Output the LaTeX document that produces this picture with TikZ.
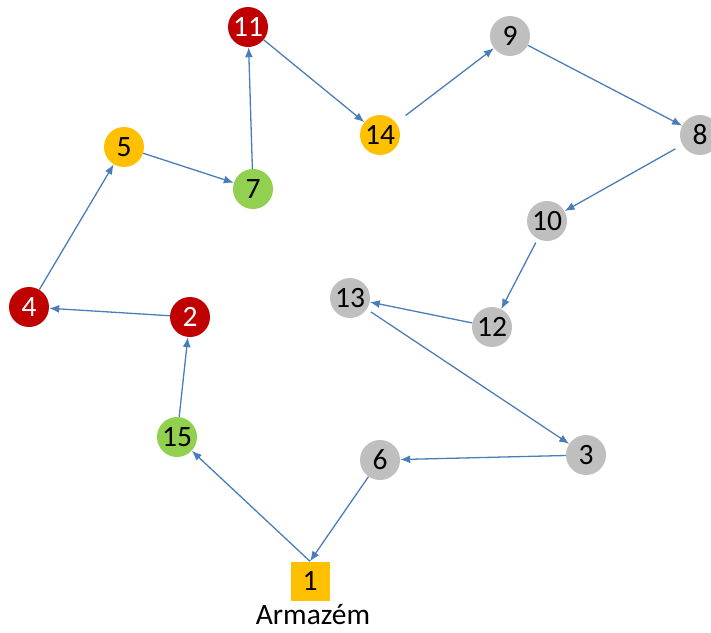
\documentclass[tikz,border=0pt]{standalone}
\usepackage{fontspec}
\setmainfont{Carlito}
\usetikzlibrary{arrows,arrows.meta,positioning,calc}

\definecolor{clred}{HTML}{C00000}
\definecolor{clorange}{HTML}{FFC000}
\definecolor{clgreen}{HTML}{92D050}
\definecolor{clgray}{HTML}{BFBFBF}
\definecolor{clblue}{HTML}{4A7EBB}

\tikzset{
    client/.style={circle,minimum size=40pt,inner sep=0pt,font=\fontsize{29.5}{32}\selectfont},
    redclient/.style={client,fill=clred,text=white},
    orangeclient/.style={client,fill=clorange},
    greenclient/.style={client,fill=clgreen},
    grayclient/.style={client,fill=clgray},
    depot/.style={rectangle,minimum size=39pt,inner sep=0pt,fill=clorange,font=\fontsize{29.5}{32}\selectfont},
    route/.style={-{Latex[length=10pt,width=8pt]},line width=1.3pt,draw=clblue}
}

\begin{document}
\begin{tikzpicture}[x=1pt,y=-1pt]
        \useasboundingbox (0,0) rectangle (711,632);

        % Depot
        \node[depot] (n1) at (310, 581) {1};
        \node[font=\fontsize{29.5}{32}\selectfont] (depotlabel) at (313, 615) {Armazém};

        % Clients
        \node[redclient] (n11) at (248, 27) {11};
        \node[redclient] (n4) at (29, 307) {4};
        \node[redclient] (n2) at (190, 317) {2};
        \node[orangeclient] (n5) at (124, 147) {5};
        \node[orangeclient] (n14) at (380, 135) {14};
        \node[greenclient] (n7) at (253, 189) {7};
        \node[greenclient] (n15) at (177, 437) {15};
        \node[grayclient] (n9) at (510, 36) {9};
        \node[grayclient] (n8) at (700, 135) {8};
        \node[grayclient] (n10) at (547, 221) {10};
        \node[grayclient] (n13) at (350, 298) {13};
        \node[grayclient] (n12) at (492, 327) {12};
        \node[grayclient] (n3) at (586, 455) {3};
        \node[grayclient] (n6) at (380, 460) {6};

        % Route
        \draw[route] (n1.north) -- (n15);
        \draw[route] (n15) -- (n2);
        \draw[route] (n2) -- (n4);
        \draw[route] (n4) -- (n5);
        \draw[route] (n5) -- (n7);
        \draw[route] (n7) -- (n11);
        \draw[route] (n11) -- (n14);
        \draw[route,shorten <=12pt] (n14) -- (n9);
        \draw[route] (n9) -- (n8);
        \draw[route,shorten <=8pt] (n8) -- (n10);
        \draw[route,shorten <=4pt] (n10) -- (n12);
        \draw[route] (n12) -- (n13);
        \draw[route,shorten <=5pt] (n13) -- (n3);
        \draw[route] (n3) -- (n6);
        \draw[route] (n6) -- (n1.north);
    \end{tikzpicture}
\end{document}
